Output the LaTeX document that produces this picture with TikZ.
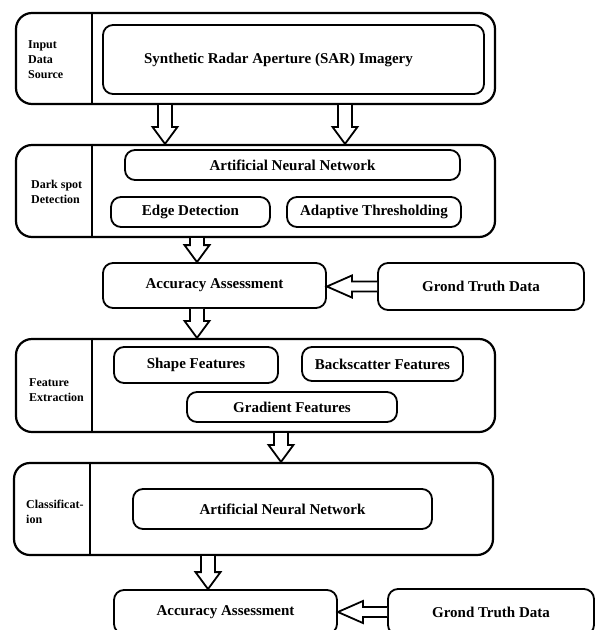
\documentclass[tikz,border=0pt]{standalone}
\usepackage{fontspec}
\setmainfont{Liberation Serif}
\usetikzlibrary{calc}
\begin{document}
\begin{tikzpicture}[x=1pt,y=-1pt,
  outer/.style={draw, line width=2.2pt, rounded corners=16pt, inner sep=0pt},
  divider/.style={line width=1.8pt},
  inner/.style={draw, line width=1.8pt, rounded corners=10pt, inner sep=0pt, font=\bfseries\fontsize{15}{18}\selectfont},
  lbl/.style={font=\bfseries\fontsize{12}{15}\selectfont, align=left, anchor=west, inner sep=0pt},
  blockdown/.style={draw, line width=1.8pt, fill=white, line join=miter,
    to path={let \p1=(\tikztostart), \p2=(\tikztotarget) in
      (\x1-7pt,\y1) -- (\x1-7pt,\y2+17pt) -- (\x1-12.5pt,\y2+17pt) -- (\x1,\y2)
      -- (\x1+12.5pt,\y2+17pt) -- (\x1+7pt,\y2+17pt) -- (\x1+7pt,\y1)}},
  blockleft/.style={draw, line width=1.8pt, fill=white, line join=miter,
    to path={let \p1=(\tikztostart), \p2=(\tikztotarget) in
      (\x1,\y1+5pt) -- (\x2+25pt,\y1+5pt) -- (\x2+25pt,\y1+11pt) -- (\x2,\y1)
      -- (\x2+25pt,\y1-11pt) -- (\x2+25pt,\y1-5pt) -- (\x1,\y1-5pt)}}
]
\path[use as bounding box, clip] (0,0) rectangle (595,630);
\fill[white] (0,0) rectangle (595,630);

% outer frames
\node[outer, minimum width=479pt, minimum height=91pt] (o1) at (255.5,58.5) {};
\node[outer, minimum width=479pt, minimum height=92pt] (o2) at (255.5,191) {};
\node[outer, minimum width=479pt, minimum height=93pt] (o3) at (255.5,385.5) {};
\node[outer, minimum width=479pt, minimum height=92pt] (o4) at (253.5,509) {};
\foreach \o in {o1,o2,o3,o4}
  \draw[divider] ([xshift=77pt]\o.north west) -- ([xshift=77pt]\o.south west);

% side labels
\node[lbl] (l1) at (28,60) {Input\\Data\\Source};
\node[lbl] (l2) at (31,192) {Dark spot\\Detection};
\node[lbl] (l3) at (29,390) {Feature\\Extraction};
\node[lbl] (l4) at (26,512) {Classificat-\\ion};

% inner boxes
\node[inner, minimum width=381pt, minimum height=69pt] (sar) at (293.5,59.5) {\hspace*{-30pt}Synthetic Radar Aperture (SAR) Imagery};
\node[inner, minimum width=335pt, minimum height=30pt] (ann1) at (292.5,165) {Artificial Neural Network};
\node[inner, minimum width=159pt, minimum height=30pt] (edge) at (190.5,212) {Edge Detection};
\node[inner, minimum width=174pt, minimum height=30pt] (adap) at (374,212) {Adaptive Thresholding};
\node[inner, minimum width=223pt, minimum height=45pt] (acc1) at (214.5,285.5) {Accuracy Assessment};
\node[inner, minimum width=206pt, minimum height=47pt] (gt1) at (481,286.5) {Grond Truth Data};
\node[inner, minimum width=164pt, minimum height=36pt] (shape) at (196,365) {Shape Features};
\node[inner, minimum width=161pt, minimum height=34pt] (back) at (382.5,364) {Backscatter Features};
\node[inner, minimum width=210pt, minimum height=30pt] (grad) at (292,407) {Gradient Features};
\node[inner, minimum width=299pt, minimum height=40pt] (ann2) at (282.5,509) {Artificial Neural Network};
\node[inner, minimum width=223pt, minimum height=44pt] (acc2) at (225.5,612) {Accuracy Assessment};
\node[inner, minimum width=206pt, minimum height=46pt] (gt2) at (491,612) {Grond Truth Data};

% block arrows
\draw[blockdown] ([xshift=-90.5pt]o1.south) to ([xshift=-90.5pt]o2.north);
\draw[blockdown] ([xshift=89.5pt]o1.south) to ([xshift=89.5pt]o2.north);
\draw[blockdown] ([xshift=-17.5pt]acc1.north |- o2.south) to ([xshift=-17.5pt]acc1.north);
\draw[blockdown] ([xshift=-17.5pt]acc1.south) to ([xshift=-17.5pt]acc1.south |- o3.north);
\draw[blockdown] ([xshift=25.5pt]o3.south) to ([xshift=27.5pt]o4.north);
\draw[blockdown] ([xshift=-17.5pt]acc2.north |- o4.south) to ([xshift=-17.5pt]acc2.north);
\draw[blockleft] (gt1.west) to (gt1.west -| acc1.east);
\draw[blockleft] (gt2.west) to (gt2.west -| acc2.east);
\end{tikzpicture}
\end{document}
